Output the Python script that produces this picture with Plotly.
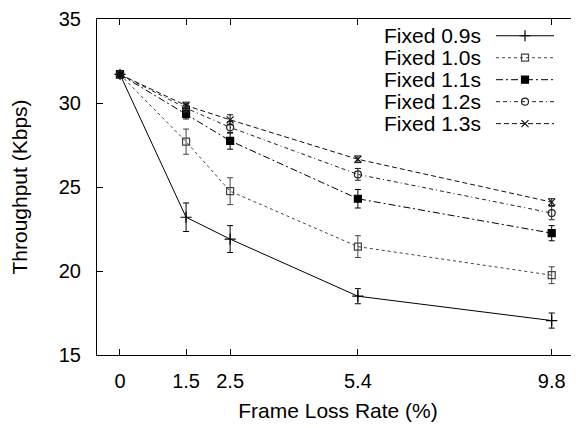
import plotly.graph_objects as go

loss_rate = [0, 1.5, 2.5, 5.4, 9.8]
tick_labels = ["0", "1.5", "2.5", "5.4", "9.8"]

names = ["Fixed 0.9s", "Fixed 1.0s", "Fixed 1.1s", "Fixed 1.2s", "Fixed 1.3s"]
f09 = [31.7, 23.2, 21.9, 18.5, 17.05]
f10 = [31.7, 27.7, 24.75, 21.45, 19.75]
f11 = [31.7, 29.35, 27.75, 24.3, 22.25]
f12 = [31.7, 29.7, 28.55, 25.75, 23.45]
f13 = [31.7, 29.85, 29.0, 26.65, 24.1]
e09 = [0, 0.85, 0.8, 0.45, 0.45]
e10 = [0, 0.75, 0.8, 0.65, 0.5]
e11 = [0, 0.3, 0.5, 0.55, 0.45]
e12 = [0, 0.25, 0.35, 0.35, 0.4]
e13 = [0, 0.2, 0.3, 0.2, 0.2]

series = [f09, f10, f11, f12, f13]
errors = [e09, e10, e11, e12, e13]
dashes = ["solid", "dot", "7px,3px,2px,3px", "4px,3px,4px,3px,1px,3px", "5px,3px"]
symbols = ["cross-thin-open", "square-open", "square", "circle-open", "x-thin-open"]
msizes = [8, 7, 7, 7, 7]
colors = ["#000000", "#444444", "#000000", "#222222", "#111111"]

# the page body has an 8px default margin; the figure is placed at (8, 8)
OFF = 8
W, H = 579 - OFF, 428 - OFF
L, R, T, B = 97 - OFF, 0, 14 - OFF, 428 - 355
FONT = "Liberation Sans, Arial, Helvetica, sans-serif"

fig = go.Figure()
for name, ys, es, d, s, ms, c in zip(names, series, errors, dashes, symbols, msizes, colors):
    fig.add_trace(go.Scatter(
        x=loss_rate, y=ys, name=name, mode="lines+markers",
        line=dict(color=c, width=1, dash=d),
        marker=dict(symbol=s, size=ms, color=c, line=dict(color=c, width=1.2)),
        error_y=dict(type="data", array=es, visible=True, color=c, thickness=1, width=3),
        showlegend=False,
    ))

# legend drawn manually: text on the left, line sample on the right (gnuplot style)
plot_w = W - L - R
plot_h = H - T - B
def fx(px):
    return (px - OFF - L) / plot_w
def fy(py):
    return (T + plot_h - (py - OFF)) / plot_h

leg_y0 = 31
leg_dy = 22.3
for i, (name, d, s, ms, c) in enumerate(zip(names, dashes, symbols, msizes, colors)):
    py = leg_y0 + i * leg_dy
    fig.add_trace(go.Scatter(
        x=[fx(496), fx(554)], y=[fy(py), fy(py)], mode="lines",
        line=dict(color=c, width=1, dash=d), xaxis="x2", yaxis="y2",
        showlegend=False, hoverinfo="skip",
    ))
    fig.add_trace(go.Scatter(
        x=[fx(525)], y=[fy(py)], mode="markers",
        marker=dict(symbol=s, size=ms, color=c, line=dict(color=c, width=1.2)),
        xaxis="x2", yaxis="y2", showlegend=False, hoverinfo="skip",
    ))
    fig.add_annotation(
        x=fx(483), y=fy(py), xref="x2", yref="y2", text=name, showarrow=False,
        xanchor="right", yanchor="middle", font=dict(size=21, family=FONT, color="black"),
    )

fig.update_layout(
    width=W, height=H,
    margin=dict(l=L, r=R, t=T, b=B),
    paper_bgcolor="white", plot_bgcolor="white",
    font=dict(family=FONT, size=20, color="black"),
    showlegend=False,
    xaxis=dict(
        range=[-0.522, 10.42], tickvals=loss_rate, ticktext=tick_labels,
        ticks="inside", ticklen=6, tickcolor="black", showline=True, linecolor="black",
        linewidth=1, mirror="ticks", showgrid=False, zeroline=False,
        title=dict(text="Frame Loss Rate (%)", standoff=12, font=dict(size=21)),
        tickfont=dict(size=20), ticklabelstandoff=8, ticklabeloverflow="allow",
    ),
    yaxis=dict(
        range=[15, 35], tickvals=[15, 20, 25, 30, 35],
        ticks="inside", ticklen=6, tickcolor="black", showline=True, linecolor="black",
        linewidth=1, showgrid=False, zeroline=False,
        title=dict(text="Throughput (Kbps)", standoff=26, font=dict(size=21)),
        tickfont=dict(size=20), ticklabelstandoff=11, ticklabeloverflow="allow",
    ),
    xaxis2=dict(range=[0, 1], overlaying="x", visible=False),
    yaxis2=dict(range=[0, 1], overlaying="y", visible=False),
)

fig.write_html("out.html")
